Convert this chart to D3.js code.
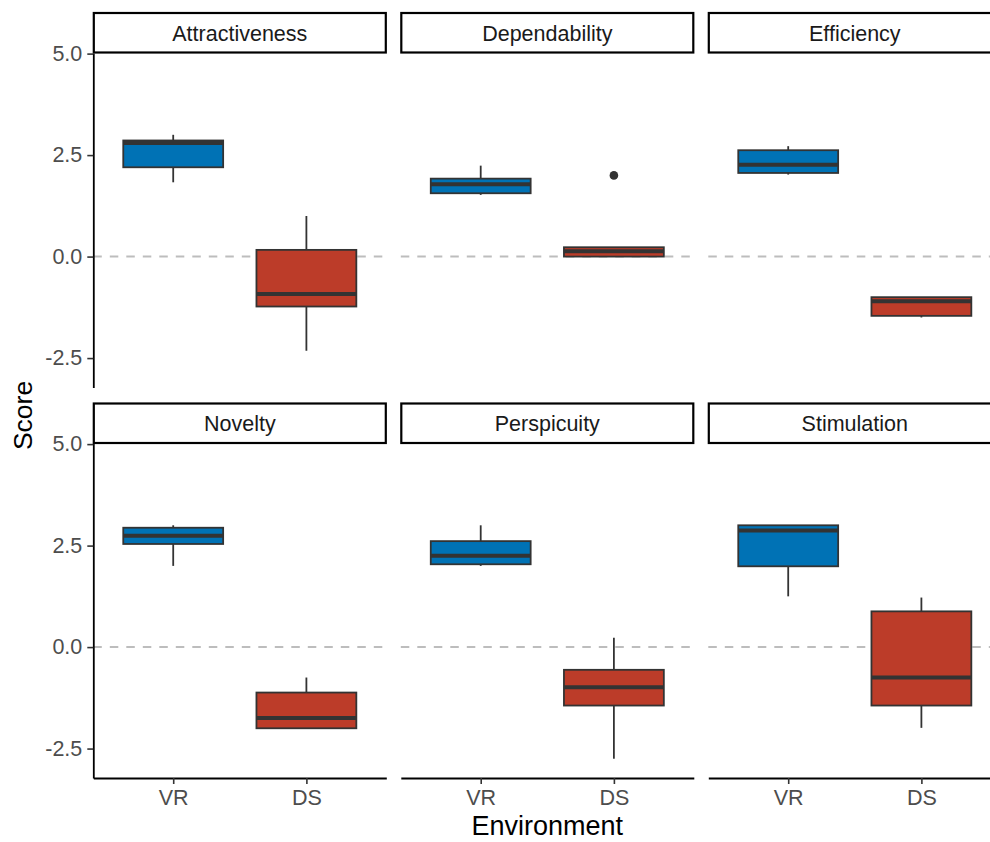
<!DOCTYPE html>
<html>
<head>
  <meta http-equiv="Content-Type" content="text/html; charset=UTF-8">
  <script src="https://d3js.org/d3.v7.min.js"></script>
  <style>
    body { margin:0; background:#fff; }
    text { font-family: "Liberation Sans", Arial, sans-serif; }
  </style>
</head>
<body>
  <svg width="990" height="842"></svg>
  <script>
    // facets, in reading order
    var scales = ["Attractiveness", "Dependability", "Efficiency",
                  "Novelty", "Perspicuity", "Stimulation"];
    var environments = ["VR", "DS"];

    // [lower whisker, Q1, median, Q3, upper whisker], one row per scale
    var vrStats = [
      [1.83, 2.20, 2.80, 2.86, 3.00],
      [1.52, 1.56, 1.78, 1.92, 2.24],
      [2.02, 2.06, 2.26, 2.62, 2.72],
      [2.00, 2.54, 2.74, 2.94, 3.00],
      [2.00, 2.04, 2.25, 2.61, 3.00],
      [1.25, 1.99, 2.87, 3.00, 3.00]
    ];
    var dsStats = [
      [-2.32, -1.23, -0.92, 0.165, 1.00],
      [ 0.00,  0.00,  0.13, 0.23, 0.23],
      [-1.50, -1.46, -1.10, -1.00, -1.00],
      [-2.00, -2.00, -1.75, -1.12, -0.75],
      [-2.75, -1.44, -0.99, -0.56, 0.23],
      [-1.99, -1.44, -0.75, 0.88, 1.22]
    ];
    // outliers: [scale, environment, value]
    var outliers = [["Dependability", "DS", 2.0]];

    var yTicks = [-2.5, 0, 2.5, 5];
    var fillColor = { VR: "#0072B5", DS: "#BC3C29" };

    var panelW = 293, gapX = 14.5, marginL = 93.3;
    var marginT = 12.5, stripH = 40.5, panelH = 334.5, gapY = 15.5;

    var svg = d3.select("svg");

    var y = d3.scaleLinear().domain([-3.225, 5.015]).range([panelH, 0]);

    var boxes = [];
    scales.forEach(function(s, i) {
      boxes.push({ scale: s, env: "VR", st: vrStats[i] });
      boxes.push({ scale: s, env: "DS", st: dsStats[i] });
    });

    scales.forEach(function(name, i) {
      var col = i % 3, row = Math.floor(i / 3);
      var px = marginL + col * (panelW + gapX);
      var py = marginT + row * (stripH + panelH + gapY);

      var x = d3.scalePoint().domain(environments).range([0, panelW]).padding(0.6);
      var bw = x.step() * 0.75;

      // strip
      var strip = svg.append("g").attr("transform", "translate(" + px + "," + py + ")");
      strip.append("rect")
        .attr("x", 0.5).attr("y", 0.5)
        .attr("width", panelW - 1).attr("height", stripH - 1)
        .attr("fill", "#fff").attr("stroke", "#000").attr("stroke-width", 2.2);
      strip.append("text")
        .attr("x", panelW / 2).attr("y", stripH / 2 + 7.8)
        .attr("text-anchor", "middle")
        .attr("font-size", 21.5).attr("fill", "#1a1a1a")
        .text(name);

      var g = svg.append("g").attr("transform", "translate(" + px + "," + (py + stripH) + ")");

      // reference line at zero
      g.append("line")
        .attr("x1", 0).attr("x2", panelW)
        .attr("y1", y(0)).attr("y2", y(0))
        .attr("stroke", "#bdbdbd").attr("stroke-width", 2)
        .attr("stroke-dasharray", "8.5,8");

      var b = g.selectAll("g.box")
        .data(boxes.filter(function(d) { return d.scale === name; }))
        .enter().append("g").attr("class", "box");

      b.append("line")
        .attr("x1", function(d) { return x(d.env); })
        .attr("x2", function(d) { return x(d.env); })
        .attr("y1", function(d) { return y(d.st[4]); })
        .attr("y2", function(d) { return y(d.st[0]); })
        .attr("stroke", "#333").attr("stroke-width", 1.8);

      b.append("rect")
        .attr("x", function(d) { return x(d.env) - bw / 2; })
        .attr("y", function(d) { return y(d.st[3]); })
        .attr("width", bw)
        .attr("height", function(d) { return y(d.st[1]) - y(d.st[3]); })
        .attr("fill", function(d) { return fillColor[d.env]; })
        .attr("stroke", "#333").attr("stroke-width", 1.8);

      b.append("line")
        .attr("x1", function(d) { return x(d.env) - bw / 2; })
        .attr("x2", function(d) { return x(d.env) + bw / 2; })
        .attr("y1", function(d) { return y(d.st[2]); })
        .attr("y2", function(d) { return y(d.st[2]); })
        .attr("stroke", "#333").attr("stroke-width", 4);

      g.selectAll("circle.out")
        .data(outliers.filter(function(d) { return d[0] === name; }))
        .enter().append("circle")
        .attr("cx", function(d) { return x(d[1]); })
        .attr("cy", function(d) { return y(d[2]); })
        .attr("r", 4.3).attr("fill", "#333");

      // axes: y on the left column, x on the bottom row
      if (col === 0) {
        var ya = g.append("g")
          .call(d3.axisLeft(y).tickValues(yTicks)
            .tickFormat(function(d) { return d.toFixed(1); })
            .tickSize(6).tickSizeOuter(0).tickPadding(5));
        ya.select(".domain").attr("stroke", "#000").attr("stroke-width", 1.8);
        ya.selectAll(".tick line").attr("stroke", "#333").attr("stroke-width", 1.6);
        ya.selectAll(".tick text").attr("font-size", 21.5).attr("fill", "#4d4d4d")
          .attr("font-family", null);
      }
      if (row === 1) {
        var xa = g.append("g").attr("transform", "translate(0," + panelH + ")")
          .call(d3.axisBottom(x).tickSize(6).tickSizeOuter(0).tickPadding(6));
        xa.select(".domain").attr("stroke", "#000").attr("stroke-width", 1.8);
        xa.selectAll(".tick line").attr("stroke", "#333").attr("stroke-width", 1.6);
        xa.selectAll(".tick text").attr("font-size", 21.5).attr("fill", "#4d4d4d")
          .attr("font-family", null);
      }
    });

    var plotTop = marginT + stripH;
    var plotBottom = marginT + 2 * (stripH + panelH) + gapY;

    svg.append("text")
      .attr("transform", "translate(32," + ((plotTop + plotBottom) / 2) + ") rotate(-90)")
      .attr("text-anchor", "middle")
      .attr("font-size", 26.5).attr("fill", "#000")
      .text("Score");

    svg.append("text")
      .attr("x", marginL + (3 * panelW + 2 * gapX) / 2)
      .attr("y", 835)
      .attr("text-anchor", "middle")
      .attr("font-size", 27).attr("fill", "#000")
      .text("Environment");
  </script>
</body>
</html>
